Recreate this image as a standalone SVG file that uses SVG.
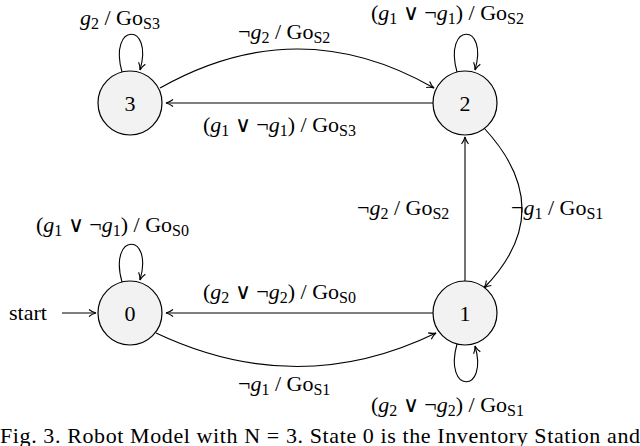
<svg xmlns="http://www.w3.org/2000/svg" width="640" height="446" viewBox="0 0 640 446">
<style>
text{font-family:"Liberation Serif",serif;font-size:22px;fill:#000}
.n circle{fill:#f2f2f2;stroke:#000;stroke-width:1.2}
.n text{font-size:22px;text-anchor:middle}
.e path{fill:none;stroke:#000;stroke-width:1.1;marker-end:url(#a)}
.i{font-style:italic}
.s{font-size:16px}
</style>
<defs><marker id="a" markerWidth="10" markerHeight="10" refX="8" refY="5" orient="auto" markerUnits="userSpaceOnUse"><path d="M1,1.5 Q4,4 8,5 Q4,6 1,8.5" fill="none" stroke="#000" stroke-width="1.1"/></marker></defs>
<rect width="640" height="446" fill="#fff"/>
<g class="e">
<path d="M160,88 Q298,10 434,88"/>
<path d="M433,103 L166,103"/>
<path d="M465,281 L465,137"/>
<path d="M484,128 Q560,210 484,288"/>
<path d="M433,313 L166,313"/>
<path d="M156,333 Q298,400 436,333"/>
<path d="M122,72 C108,22 154,22 140,70"/>
<path d="M457,72 C443,22 489,22 475,70"/>
<path d="M122,282 C108,232 154,232 140,280"/>
<path d="M457,344 C443,394 489,394 475,346"/>
<path d="M62,313 L96,313"/>
</g>
<g id="n3" class="n"><circle cx="130" cy="103" r="32"/><text x="130" y="111">3</text></g>
<g id="n2" class="n"><circle cx="465" cy="103" r="32"/><text x="465" y="111">2</text></g>
<g id="n0" class="n"><circle cx="130" cy="313" r="32"/><text x="130" y="321">0</text></g>
<g id="n1" class="n"><circle cx="465" cy="313" r="32"/><text x="465" y="321">1</text></g>
<g id="labels">
<text x="80" y="25"><tspan class="i">g</tspan><tspan class="s" dy="4">2</tspan><tspan dy="-4"> / Go</tspan><tspan class="s" dy="4">S3</tspan></text>
<text x="238" y="39">¬<tspan class="i">g</tspan><tspan class="s" dy="4">2</tspan><tspan dy="-4"> / Go</tspan><tspan class="s" dy="4">S2</tspan></text>
<text x="371" y="20">(<tspan class="i">g</tspan><tspan class="s" dy="4">1</tspan><tspan dy="-4"> ∨ ¬</tspan><tspan class="i">g</tspan><tspan class="s" dy="4">1</tspan><tspan dy="-4">) / Go</tspan><tspan class="s" dy="4">S2</tspan></text>
<text x="203" y="132">(<tspan class="i">g</tspan><tspan class="s" dy="4">1</tspan><tspan dy="-4"> ∨ ¬</tspan><tspan class="i">g</tspan><tspan class="s" dy="4">1</tspan><tspan dy="-4">) / Go</tspan><tspan class="s" dy="4">S3</tspan></text>
<text x="357" y="215">¬<tspan class="i">g</tspan><tspan class="s" dy="4">2</tspan><tspan dy="-4"> / Go</tspan><tspan class="s" dy="4">S2</tspan></text>
<text x="511" y="215">¬<tspan class="i">g</tspan><tspan class="s" dy="4">1</tspan><tspan dy="-4"> / Go</tspan><tspan class="s" dy="4">S1</tspan></text>
<text x="36" y="232">(<tspan class="i">g</tspan><tspan class="s" dy="4">1</tspan><tspan dy="-4"> ∨ ¬</tspan><tspan class="i">g</tspan><tspan class="s" dy="4">1</tspan><tspan dy="-4">) / Go</tspan><tspan class="s" dy="4">S0</tspan></text>
<text x="9" y="320">start</text>
<text x="203" y="299">(<tspan class="i">g</tspan><tspan class="s" dy="4">2</tspan><tspan dy="-4"> ∨ ¬</tspan><tspan class="i">g</tspan><tspan class="s" dy="4">2</tspan><tspan dy="-4">) / Go</tspan><tspan class="s" dy="4">S0</tspan></text>
<text x="238" y="391">¬<tspan class="i">g</tspan><tspan class="s" dy="4">1</tspan><tspan dy="-4"> / Go</tspan><tspan class="s" dy="4">S1</tspan></text>
<text x="371" y="412">(<tspan class="i">g</tspan><tspan class="s" dy="4">2</tspan><tspan dy="-4"> ∨ ¬</tspan><tspan class="i">g</tspan><tspan class="s" dy="4">2</tspan><tspan dy="-4">) / Go</tspan><tspan class="s" dy="4">S1</tspan></text>
<text x="0" y="443" font-size="17" textLength="640" lengthAdjust="spacing">Fig. 3.   Robot Model with N = 3. State 0 is the Inventory Station and</text>
</g>
</svg>
